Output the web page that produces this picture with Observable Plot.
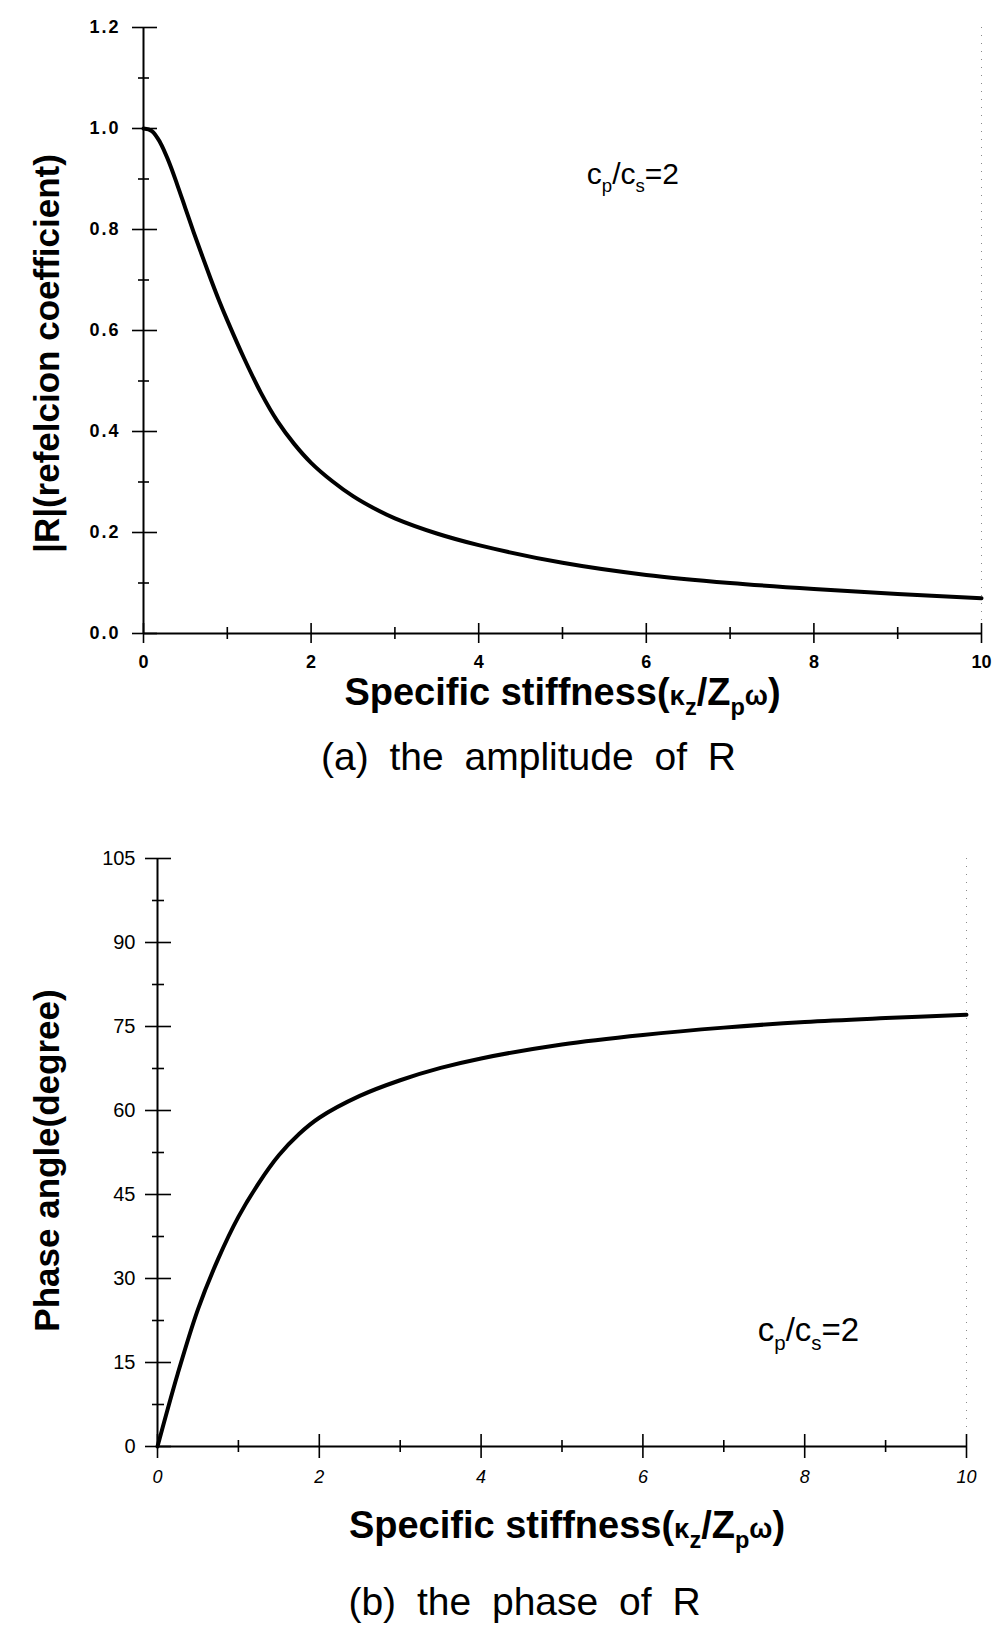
<!DOCTYPE html>
<html>
<head>
<meta charset="utf-8">
<script src="https://cdn.jsdelivr.net/npm/d3@7"></script>
<script src="https://cdn.jsdelivr.net/npm/@observablehq/plot@0.6"></script>
<style>
  html, body { margin: 0; padding: 0; background: #fff; }
  #page { position: relative; width: 1003px; height: 1627px; font-family: "Liberation Sans", Arial, sans-serif; color: #000; }
  .panel { position: absolute; left: 0; }
  .caption { position: absolute; width: 1003px; text-align: center; font-size: 39px; line-height: 42px; word-spacing: 10px; }
  #panelA g[aria-label="y-axis tick label"] text { letter-spacing: 2px; }
</style>
</head>
<body>
<div id="page">
  <div id="panelA" class="panel" style="top:0px"></div>
  <div class="caption" style="top:736px; left:27px">(a) the amplitude of R</div>
  <div id="panelB" class="panel" style="top:790px"></div>
  <div class="caption" style="top:1581px; left:23px">(b) the phase of R</div>
</div>
<script>
// ---------- data ----------
const ampX = [0, 0.1, 0.2, 0.3, 0.4, 0.5, 0.6, 0.7, 0.8, 0.9, 1.0, 1.2, 1.4, 1.6, 1.8, 2.0, 2.25, 2.5, 2.75, 3, 3.5, 4, 5, 6, 7, 8, 9, 10];
const ampY = [1.0, 0.995, 0.972, 0.935, 0.89, 0.842, 0.794, 0.748, 0.703, 0.66, 0.62, 0.545, 0.477, 0.42, 0.375, 0.338, 0.302, 0.272, 0.248, 0.228, 0.198, 0.175, 0.14, 0.116, 0.1, 0.088, 0.078, 0.07];

const phaseX = [0, 0.25, 0.5, 0.75, 1.0, 1.25, 1.5, 1.75, 2.0, 2.5, 3, 3.5, 4, 5, 6, 7, 8, 9, 10];
const phaseY = [0, 13, 24.5, 33.5, 41, 47, 52, 55.8, 58.7, 62.6, 65.4, 67.6, 69.3, 71.8, 73.5, 74.8, 75.8, 76.5, 77.1];

const xMajor = [0, 2, 4, 6, 8, 10];
const xMinor = [1, 3, 5, 7, 9];
const ampMajor = [0, 0.2, 0.4, 0.6, 0.8, 1.0, 1.2];
const ampMinor = [0.1, 0.3, 0.5, 0.7, 0.9, 1.1];
const phaseMajor = [0, 15, 30, 45, 60, 75, 90, 105];
const phaseMinor = [7.5, 22.5, 37.5, 52.5, 67.5, 82.5, 97.5];

const xLabel = "Specific stiffness(\u03BAz/Zp\u03C9)";
const ampLabel = "|R|(refelcion coefficient)";
const phaseLabel = "Phase angle(degree)";
const ratioText = "cp/cs=2";

const FONT = "Liberation Sans, Arial, sans-serif";

const ampData = ampX.map((x, i) => ({x, y: ampY[i]}));
const phaseData = phaseX.map((x, i) => ({x, y: phaseY[i]}));

// ticks crossing the axis
function yTickMarks(values, left, right, frameW, sw) {
  return Plot.tickY(values, {y: d => d, dx: -left, insetRight: frameW - (left + right), stroke: "black", strokeWidth: sw});
}
function xTickMarks(values, up, down, frameH, sw) {
  return Plot.tickX(values, {x: d => d, dy: down, insetTop: frameH - (up + down), stroke: "black", strokeWidth: sw});
}

function richify(svg, plain, parts, size) {
  d3.select(svg).selectAll("text").filter(function() { return this.textContent === plain; }).each(function() {
    const t = d3.select(this);
    t.text("");
    let shift = 0;
    for (const [s, kind] of parts) {
      const ts = t.append("tspan").text(s);
      let target = 0;
      if (kind === "sub") { ts.attr("font-size", size * 0.62); target = size * 0.28; }
      else if (kind === "small") { ts.attr("font-size", size * 0.72); target = 0; }
      if (target !== shift) { ts.attr("dy", target - shift); shift = target; }
    }
  });
}

const xLabelParts = [["Specific stiffness(", ""], ["\u03BA", "small"], ["z", "sub"], ["/Z", ""], ["p", "sub"], ["\u03C9", "small"], [")", ""]];
const ratioParts = [["c", ""], ["p", "sub"], ["/c", ""], ["s", "sub"], ["=2", ""]];

// ---------- panel A ----------
{
  const W = 1003, H = 740, mL = 143, mR = 22, mT = 27, mB = 107;
  const fw = W - mL - mR, fh = H - mT - mB;
  const p = Plot.plot({
    width: W, height: H, marginLeft: mL, marginRight: mR, marginTop: mT, marginBottom: mB,
    style: {fontFamily: FONT, background: "white", color: "black"},
    x: {domain: [0, 10]},
    y: {domain: [0, 1.2]},
    marks: [
      Plot.ruleX([10], {stroke: "#8a8a8a", strokeWidth: 1, strokeDasharray: "1,7"}),
      Plot.ruleY([0], {stroke: "black", strokeWidth: 2}),
      Plot.ruleX([0], {stroke: "black", strokeWidth: 2}),
      yTickMarks(ampMajor, 11, 14, fw, 1.6),
      yTickMarks(ampMinor, 5, 6, fw, 1.6),
      xTickMarks(xMajor, 10, 10, fh, 1.6),
      xTickMarks(xMinor, 6, 6, fh, 1.6),
      Plot.axisY({ticks: ampMajor, tickSize: 0, tickPadding: 23, tickFormat: d3.format(".1f"), fontSize: 18, fontWeight: "bold", label: null}),
      Plot.axisX({ticks: xMajor, tickSize: 0, tickPadding: 22, fontSize: 18, fontWeight: "bold", label: null}),
      Plot.line(ampData, {x: "x", y: "y", stroke: "black", strokeWidth: 4, curve: "catmull-rom", strokeLinejoin: "round", strokeLinecap: "round"}),
      Plot.text([xLabel], {frameAnchor: "bottom", dy: 71, fontSize: 38, fontWeight: "bold"}),
      Plot.text([ampLabel], {frameAnchor: "left", textAnchor: "middle", dx: -96, dy: 23, rotate: -90, fontSize: 35, fontWeight: "bold"}),
      Plot.text([ratioText], {x: [5.29], y: [0.91], textAnchor: "start", fontSize: 30})
    ]
  });
  richify(p, xLabel, xLabelParts, 38);
  richify(p, ratioText, ratioParts, 30);
  document.getElementById("panelA").appendChild(p);
}

// ---------- panel B ----------
{
  const W = 1003, H = 790, mL = 157, mR = 37, mT = 68, mB = 134;
  const fw = W - mL - mR, fh = H - mT - mB;
  const p = Plot.plot({
    width: W, height: H, marginLeft: mL, marginRight: mR, marginTop: mT, marginBottom: mB,
    style: {fontFamily: FONT, background: "white", color: "black"},
    x: {domain: [0, 10]},
    y: {domain: [0, 105]},
    marks: [
      Plot.ruleX([10], {stroke: "#8a8a8a", strokeWidth: 1, strokeDasharray: "1,7"}),
      Plot.ruleY([0], {stroke: "black", strokeWidth: 2}),
      Plot.ruleX([0], {stroke: "black", strokeWidth: 2}),
      yTickMarks(phaseMajor, 12, 14, fw, 1.6),
      yTickMarks(phaseMinor, 5, 7, fw, 1.6),
      xTickMarks(xMajor, 12, 12, fh, 1.6),
      xTickMarks(xMinor, 6, 6, fh, 1.6),
      Plot.axisY({ticks: phaseMajor, tickSize: 0, tickPadding: 22, fontSize: 20, label: null}),
      Plot.axisX({ticks: xMajor, tickSize: 0, tickPadding: 24, fontSize: 18, fontStyle: "italic", label: null}),
      Plot.line(phaseData, {x: "x", y: "y", stroke: "black", strokeWidth: 4, curve: "catmull-rom", strokeLinejoin: "round", strokeLinecap: "round"}),
      Plot.text([xLabel], {frameAnchor: "bottom", dy: 91, dx: 5, fontSize: 38, fontWeight: "bold"}),
      Plot.text([phaseLabel], {frameAnchor: "left", textAnchor: "middle", dx: -110, dy: 8, rotate: -90, fontSize: 35, fontWeight: "bold"}),
      Plot.text([ratioText], {x: [7.42], y: [20.7], textAnchor: "start", fontSize: 33})
    ]
  });
  richify(p, xLabel, xLabelParts, 38);
  richify(p, ratioText, ratioParts, 33);
  document.getElementById("panelB").appendChild(p);
}
</script>
</body>
</html>
